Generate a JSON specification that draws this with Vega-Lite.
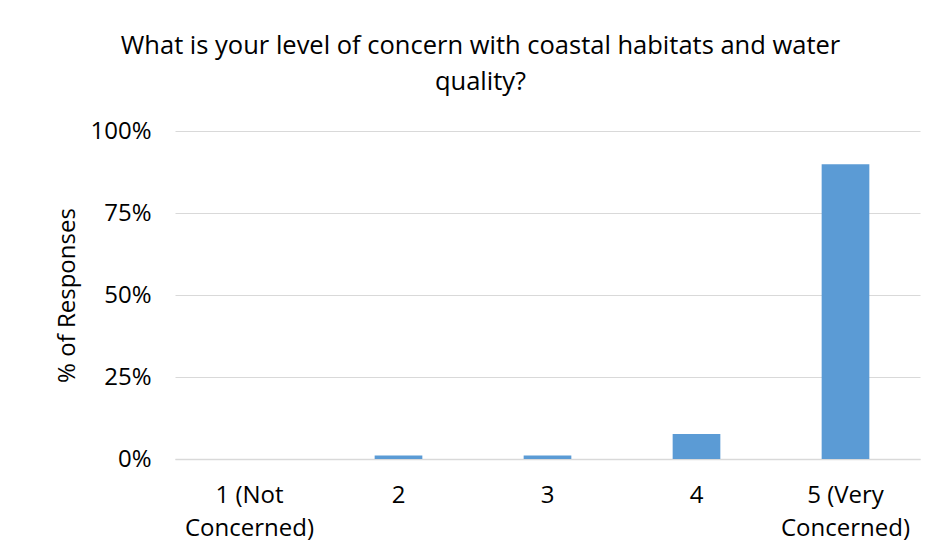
{
  "$schema": "https://vega.github.io/schema/vega-lite/v6.json",
  "autosize": "none",
  "width": 745,
  "height": 328,
  "padding": {"left": 175, "top": 131, "right": 18, "bottom": 97},
  "background": "white",
  "title": {
    "text": ["What is your level of concern with coastal habitats and water", "quality?"],
    "font": "Open Sans",
    "fontSize": 25.5,
    "fontWeight": "normal",
    "color": "#000000",
    "lineHeight": 36,
    "anchor": "middle",
    "dx": -67,
    "offset": 24
  },
  "data": {
    "values": [
      {"level": "1 (Not Concerned)", "pct": 0},
      {"level": "2", "pct": 0.011},
      {"level": "3", "pct": 0.011},
      {"level": "4", "pct": 0.076},
      {"level": "5 (Very Concerned)", "pct": 0.899}
    ]
  },
  "mark": {"type": "bar", "color": "#5b9bd5"},
  "encoding": {
    "x": {
      "field": "level",
      "type": "nominal",
      "sort": null,
      "scale": {"paddingInner": 0.68, "paddingOuter": 0.34},
      "axis": {
        "title": null,
        "labelAngle": 0,
        "labelFont": "Open Sans",
        "labelFontSize": 24,
        "labelColor": "#000000",
        "labelLineHeight": 33,
        "labelPadding": 24,
        "ticks": false,
        "domainColor": "#d9d9d9",
        "domainWidth": 1.5,
        "labelExpr": "datum.value == '1 (Not Concerned)' ? ['1 (Not', 'Concerned)'] : datum.value == '5 (Very Concerned)' ? ['5 (Very', 'Concerned)'] : datum.value"
      }
    },
    "y": {
      "field": "pct",
      "type": "quantitative",
      "scale": {"domain": [0, 1]},
      "axis": {
        "title": "% of Responses",
        "titleFont": "Open Sans",
        "titleFontSize": 24,
        "titleFontWeight": "normal",
        "titleColor": "#000000",
        "titlePadding": 10,
        "values": [0, 0.25, 0.5, 0.75, 1],
        "format": ".0%",
        "labelFont": "Open Sans",
        "labelFontSize": 24,
        "labelColor": "#000000",
        "labelPadding": 24,
        "ticks": false,
        "domain": false,
        "gridColor": "#d9d9d9",
        "gridWidth": 1
      }
    }
  },
  "config": {"view": {"stroke": null}}
}
